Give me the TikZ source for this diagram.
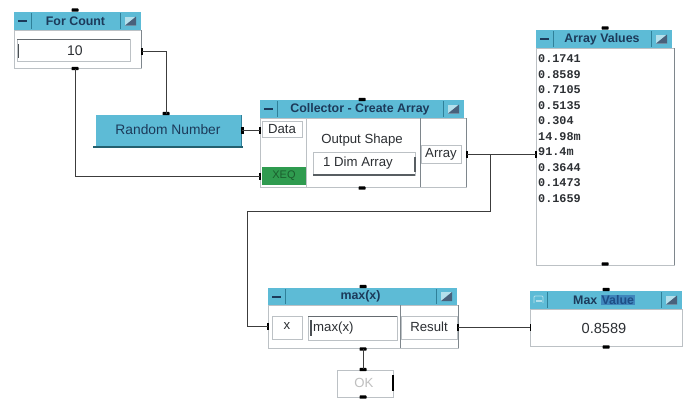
\documentclass[tikz,border=0pt]{standalone}
\usepackage{fontspec}
\setmainfont{Liberation Sans}
\newfontfamily\valfont{Liberation Mono}
\usetikzlibrary{calc}

\definecolor{barblue}{HTML}{5DBBD6}
\definecolor{barsep}{HTML}{2F8099}
\definecolor{barlight}{HTML}{B4E0EC}
\definecolor{navy}{HTML}{1C3A5A}
\definecolor{panelgray}{HTML}{BCC1C5}
\definecolor{edgegray}{HTML}{7E868C}
\definecolor{wirecol}{HTML}{3C3C3C}
\definecolor{xeqgreen}{HTML}{2F9B4F}
\definecolor{xeqtext}{HTML}{1B5E2E}
\definecolor{labeltext}{HTML}{2C2F33}
\definecolor{selblue}{HTML}{3F86BC}
\definecolor{seltext}{HTML}{1E4F86}
\definecolor{rnshadow}{HTML}{23606F}

\newcommand{\selbox}[1]{{\setlength{\fboxsep}{0.8pt}\colorbox{selblue}{\textcolor{seltext}{#1}}}}

\tikzset{
  panel/.style={fill=white, draw=panelgray, line width=0.8pt},
  labelbox/.style={fill=white, draw=panelgray, line width=0.7pt},
  titletext/.style={text=navy, font=\bfseries\fontsize{12.4}{14}\selectfont, inner sep=0pt},
  uitext/.style={text=labeltext, font=\fontsize{13.2}{15}\selectfont, inner sep=0pt},
  valtext/.style={text=labeltext, font=\valfont\bfseries\fontsize{11.8}{14}\selectfont, inner sep=0pt},
  wire/.style={draw=wirecol, line width=0.85pt},
  darkedge/.style={draw=edgegray, line width=1pt},
}

% title bar of an object window: name, x1, y1, x2, y2, caption
\newcommand{\uititle}[6]{%
  \fill[barblue] (#2,#3) rectangle (#4,#5);
  \draw[barsep, line width=0.7pt] (#2+17,#3+1) -- (#2+17,#5-1);
  \draw[barsep, line width=0.7pt] (#4-21,#3+1) -- (#4-21,#5-1);
  \fill[navy] (#2+4,{(#3+#5)/2-1}) rectangle (#2+13,{(#3+#5)/2+1});
  \fill[barlight] (#4-16,{(#3+#5)/2-4.5}) rectangle (#4-5,{(#3+#5)/2+4.5});
  \fill[navy!80] (#4-5,{(#3+#5)/2-4.5}) -- (#4-5,{(#3+#5)/2+4.5}) -- (#4-16,{(#3+#5)/2+4.5}) -- cycle;
  \node[titletext] (#1) at ({(#2+#4-4)/2},{(#3+#5)/2}) {#6};
}
% sequence tab (top / bottom of a window)
\newcommand{\seqtab}[2]{\fill[black, rounded corners=0.6pt] (#1-3.5,#2-1.6) rectangle (#1+3.5,#2+1.6);}
% data pin on a vertical edge
\newcommand{\datapin}[2]{\fill[black] (#1-1.2,#2-3.5) rectangle (#1+1.2,#2+3.5);}

\begin{document}
\begin{tikzpicture}[x=1pt,y=-1pt]
\useasboundingbox (0,0) rectangle (684,400);
\fill[white] (0,0) rectangle (684,400);

% ---------------- For Count ----------------
\draw[panel] (14,30) rectangle (141,68);
\draw[darkedge] (141,30) -- (141,68);
\uititle{fc-title}{14}{12}{141}{30}{For Count}
\draw[labelbox] (17,39) rectangle (130,61);
\draw[edgegray!80!black, line width=1.6pt] (17,39.6) -- (130,39.6);
\draw[edgegray!60!black, line width=1.5pt] (18.5,44) -- (18.5,58);
\node[uitext, font=\fontsize{14}{16}\selectfont] (fc-val) at (75,51) {10};
\seqtab{75}{10}
\coordinate (fc-out) at (142,51);
\coordinate (fc-seq) at (75,69);
\datapin{142}{51}
\seqtab{75}{68.5}

% ---------------- Random Number ----------------
\fill[barblue] (96,115) rectangle (241,146);
\draw[barsep, line width=0.8pt] (241,115) -- (241,146);
\draw[rnshadow, line width=2pt] (93,146.5) -- (243,146.5);
\node[uitext, text=navy, font=\fontsize{13.8}{16}\selectfont] (rn-text) at (168,130) {Random Number};
\coordinate (rn-in) at (166,113.5);
\coordinate (rn-out) at (242,130);
\seqtab{166}{113.5}
\datapin{242.5}{130}

% ---------------- Collector ----------------
\draw[panel] (260,118) rectangle (466,187);
\draw[darkedge] (466,118) -- (466,187);
\uititle{col-title}{260}{100}{464}{118}{Collector - Create Array}
\draw[panelgray, line width=0.7pt] (306,118) -- (306,187);
\draw[edgegray, line width=0.8pt] (420,118) -- (420,187);
\draw[labelbox] (262,121) rectangle (302,137);
\node[uitext] (col-data-lbl) at (282,129) {Data};
\fill[xeqgreen] (262,167) rectangle (306,185);
\node[uitext, text=xeqtext, font=\fontsize{11}{13}\selectfont] (col-xeq-lbl) at (284,176) {XEQ};
\node[uitext] (col-shape) at (362,140) {Output Shape};
\draw[labelbox] (313,152) rectangle (415,175);
\draw[edgegray!70!black, line width=1.2pt] (313,175) -- (415,175);
\draw[edgegray!70!black, line width=1.2pt] (415,157) -- (415,172);
\node[uitext] (col-dim) at (358,163) {1 Dim Array};
\draw[labelbox] (421,145) rectangle (461,163);
\node[uitext] (col-array-lbl) at (441,154) {Array};
\seqtab{362}{99.5}
\seqtab{362}{188}
\coordinate (col-data) at (260,130);
\coordinate (col-xeq) at (260,176);
\coordinate (col-out) at (467,154);
\datapin{260}{130}
\datapin{260}{176}
\datapin{467}{154}

% ---------------- Array Values ----------------
\draw[panel] (536,48) rectangle (674,265);
\draw[darkedge] (674,48) -- (674,265);
\uititle{av-title}{536}{30}{672}{48}{Array Values}
\foreach \v [count=\i from 0] in {0.1741,0.8589,0.7105,0.5135,0.304,14.98m,91.4m,0.3644,0.1473,0.1659}
  \node[valtext, anchor=west] (av-\i) at (538,{59+15.5*\i}) {\v};
\seqtab{605}{28}
\seqtab{605}{264}
\coordinate (av-in) at (536,154);
\datapin{536}{154}

% ---------------- max(x) formula ----------------
\draw[panel] (268,305) rectangle (458,348);
\draw[darkedge] (458,305) -- (458,348);
\uititle{mx-title}{268}{288}{457}{305}{max(x)}
\draw[edgegray, line width=0.8pt] (400,305) -- (400,348);
\draw[labelbox] (272,316) rectangle (302,339);
\node[uitext] (mx-x-lbl) at (287,326) {x};
\draw[labelbox] (308,316) rectangle (397,340);
\draw[edgegray!80!black, line width=1.4pt] (308,316.6) -- (397,316.6);
\draw[edgegray!60!black, line width=1.3pt] (311,320) -- (311,336);
\node[uitext, anchor=west] (mx-expr) at (313,328) {max(x)};
\draw[labelbox] (401,316) rectangle (457,339);
\node[uitext] (mx-res-lbl) at (429,327) {Result};
\seqtab{363}{286.5}
\seqtab{363}{349}
\coordinate (mx-in) at (268,326);
\coordinate (mx-out) at (458,327);
\coordinate (mx-seq) at (363,349);
\datapin{268}{326}
\datapin{458}{327}

% ---------------- OK button ----------------
\draw[labelbox] (337,370) rectangle (393,397);
\draw[black, line width=2pt] (392.5,375) -- (392.5,391);
\node[uitext, text=black!25] (ok-text) at (364,383) {OK};
\coordinate (ok-top) at (363,369);
\seqtab{363}{369.5}
\seqtab{363}{397}

% ---------------- Max Value ----------------
\draw[panel] (530,309) rectangle (682,346);
\uititle{mv-title}{530}{291}{682}{309}{Max \selbox{Value}}
\fill[barblue] (531,292) rectangle (546,308);
\draw[barlight, line width=0.9pt, rounded corners=1pt] (534,303) -- (534,296) -- (543,296) -- (543,303);
\fill[barlight] (535.5,300) rectangle (541.5,302);
\node[uitext, font=\fontsize{14.6}{17}\selectfont] (mv-val) at (604,328) {0.8589};
\seqtab{606}{289.5}
\seqtab{606}{347}
\coordinate (mv-in) at (530,327);
\fill[black] (529.6,323.5) rectangle (531,330.5);

% ---------------- wiring ----------------
\coordinate (branch) at (490,154);
\coordinate (loop-r) at (490,211);
\coordinate (loop-l) at (247,211);
\draw[wire] (fc-out) -| (rn-in);
\draw[wire] (fc-seq) |- (col-xeq);
\draw[wire] (rn-out) -- (col-data);
\draw[wire] (col-out) -- (av-in);
\draw[wire] (branch) -- (loop-r) -- (loop-l) |- (mx-in);
\draw[wire] (mx-out) -- (mv-in);
\draw[wire] (mx-seq) -- (ok-top);
\end{tikzpicture}
\end{document}
